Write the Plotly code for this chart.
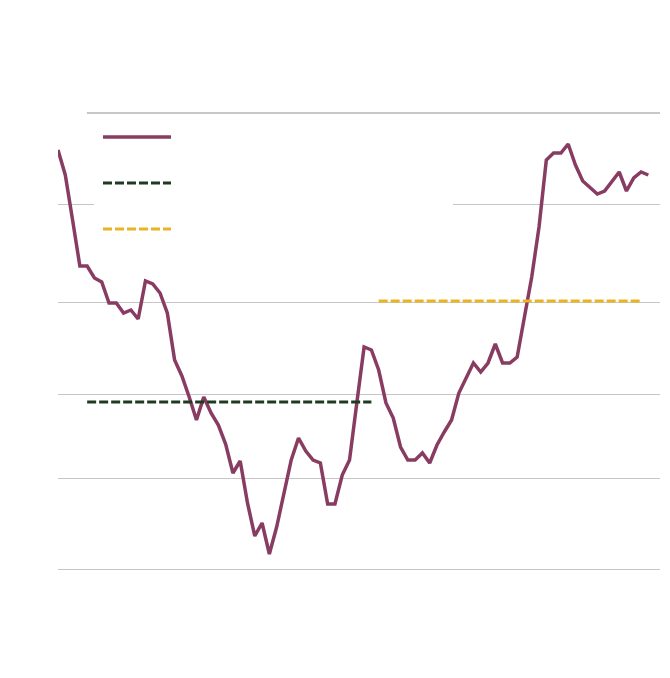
import plotly.graph_objects as go

# Series values
period_index = list(range(82))
series_values = [419, 394, 349, 303, 303, 291, 287, 266, 266, 256,
                 259, 250, 288, 285, 276, 256, 209, 193, 172, 149,
                 172, 156, 144, 125, 96, 108, 66, 33, 46, 15,
                 42, 76, 109, 131, 118, 109, 106, 65, 65, 94,
                 109, 166, 222, 219, 199, 166, 151, 122, 109, 109,
                 116, 106, 124, 137, 149, 176, 191, 206, 197, 206,
                 225, 206, 206, 212, 252, 292, 342, 409, 416, 416,
                 425, 404, 388, 381, 375, 378, 387, 397, 378, 391,
                 397, 394]

# Period averages
avg1_x = [4, 43]
avg1_y = [167, 167]
avg2_x = [44, 80]
avg2_y = [268, 268]

grid_values = [0, 91, 175, 267, 365]

MAROON = "#883C62"
GREEN = "#1E3B22"
GOLD = "#E9B423"
PAD = "\u00a0" * 87

fig = go.Figure()
fig.add_trace(go.Scatter(x=period_index, y=series_values, mode="lines",
                         line=dict(color=MAROON, width=3.5),
                         name=PAD, legendgroup="a", hoverinfo="skip"))
fig.add_trace(go.Scatter(x=avg1_x, y=avg1_y, mode="lines",
                         line=dict(color=GREEN, width=3, dash="9px,3px"),
                         name=PAD, legendgroup="b", hoverinfo="skip"))
fig.add_trace(go.Scatter(x=avg2_x, y=avg2_y, mode="lines",
                         line=dict(color=GOLD, width=3, dash="9px,3px"),
                         name=PAD, legendgroup="c", hoverinfo="skip"))

fig.update_layout(
    width=670, height=678,
    margin=dict(l=58, r=10, t=113, b=99, pad=0),
    paper_bgcolor="white", plot_bgcolor="white",
    font=dict(family="Open Sans", size=12, color="white"),
    showlegend=True,
    legend=dict(x=0.0598, y=0.9796, xanchor="left", yanchor="top",
                bgcolor="white", borderwidth=0, itemwidth=68,
                indentation=4,
                tracegroupgap=27, traceorder="grouped",
                font=dict(size=12, color="white")),
    shapes=[dict(type="line", xref="paper", yref="paper",
                 x0=0.048, x1=1, y0=1, y1=1,
                 line=dict(color="#8f8f8f", width=1), layer="above")],
)
fig.update_xaxes(range=[0, 82.6], showgrid=False, zeroline=False,
                 showticklabels=False, ticks="", showline=False)
fig.update_yaxes(range=[-10, 456], tickvals=grid_values, showgrid=True,
                 gridcolor="#c6c6c6", gridwidth=1.2, zeroline=False,
                 showticklabels=False, ticks="", showline=False)

fig.write_html("out.html", config={"displayModeBar": False},
               post_script="document.body.style.margin='0px';")
